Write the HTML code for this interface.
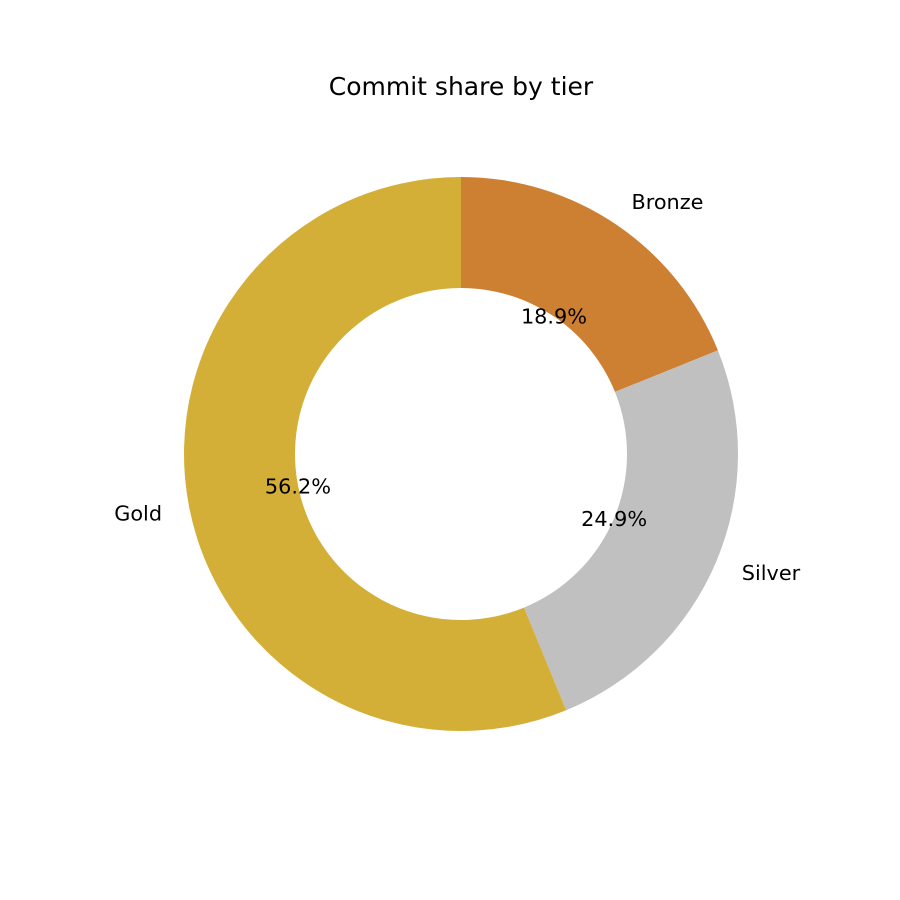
<!DOCTYPE html>
<html><head><meta charset="utf-8"><style>
html,body{margin:0;padding:0;background:#fff;}
svg{display:block;font-family:"DejaVu Sans","Liberation Sans",sans-serif;}
</style></head><body>
<svg id="chart" width="900" height="900" viewBox="0 0 900 900">
<rect width="900" height="900" fill="#fff"/>
<text x="461" y="95" font-size="25" text-anchor="middle" fill="#000">Commit share by tier</text>
<g id="slices"></g>
<g id="labels"></g>
</svg>
<script>
const categories = ["Bronze", "Silver", "Gold"];
const values = [18.9, 24.9, 56.2];
const colors = ["#cd7f32", "#c0c0c0", "#d4af37"];
const pctLabels = ["18.9%", "24.9%", "56.2%"];

const cx = 461, cy = 454, R = 277, r = 166;
const NS = "http://www.w3.org/2000/svg";
const total = values.reduce((a, b) => a + b, 0);
function pt(angDeg, rad) {
  const a = angDeg * Math.PI / 180;
  return [cx + rad * Math.cos(a), cy - rad * Math.sin(a)];
}
const sG = document.getElementById("slices");
const lG = document.getElementById("labels");
let start = 90;
values.forEach((v, i) => {
  const sweep = v / total * 360;
  const end = start - sweep;
  const large = sweep > 180 ? 1 : 0;
  const [x1, y1] = pt(start, R), [x2, y2] = pt(end, R);
  const [x3, y3] = pt(end, r), [x4, y4] = pt(start, r);
  const p = document.createElementNS(NS, "path");
  p.setAttribute("d", `M${x1},${y1} A${R},${R} 0 ${large} 1 ${x2},${y2} L${x3},${y3} A${r},${r} 0 ${large} 0 ${x4},${y4} Z`);
  p.setAttribute("fill", colors[i]);
  
  
  sG.appendChild(p);
  const mid = start - sweep / 2;
  const [lx, ly] = pt(mid, R * 1.1);
  const t = document.createElementNS(NS, "text");
  t.setAttribute("x", lx);
  t.setAttribute("y", ly + 7.5);
  t.setAttribute("font-size", "20.8");
  t.setAttribute("text-anchor", Math.cos(mid * Math.PI / 180) >= 0 ? "start" : "end");
  t.textContent = categories[i];
  
  
  lG.appendChild(t);
  const [px, py] = pt(mid, R * 0.6);
  const q = document.createElementNS(NS, "text");
  q.setAttribute("x", px);
  q.setAttribute("y", py + 7.5);
  q.setAttribute("font-size", "20.8");
  q.setAttribute("text-anchor", "middle");
  q.textContent = pctLabels[i];
  
  
  lG.appendChild(q);
  start = end;
});
</script>
</body></html>
